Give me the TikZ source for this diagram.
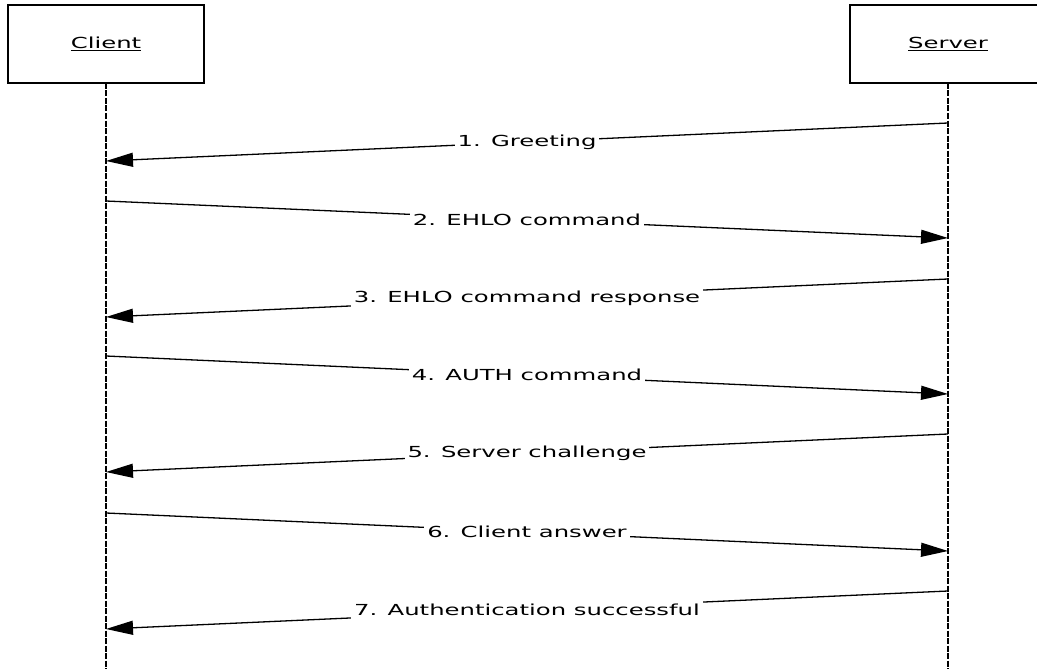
\documentclass[tikz,border=0pt]{standalone}
\usepackage{fontspec}
\setmainfont{DejaVu Sans}[FakeStretch=1.6]
\usetikzlibrary{arrows.meta}

\tikzset{
  actor/.style={draw, line width=1.5pt},
  lifeline/.style={line width=2.6pt, dash pattern=on 6pt off 1.5pt},
  msg/.style={line width=1.3pt, -{Triangle[length=27pt,width=14pt]}},
  msglabel/.style={fill=white, inner sep=3pt, midway, font=\fontsize{15.2}{18}\selectfont},
  actorlabel/.style={font=\fontsize{15.2}{18}\selectfont}
}

\begin{document}
\begin{tikzpicture}[x=1pt,y=-1pt]
\useasboundingbox (0,0) rectangle (1037,669);
%\draw[help lines, color=gray!30] (0,0) grid[step=50] (1037,669);

\draw [actor] (8,5) rectangle (204,83);
\node [actorlabel] (client) at (106,44) {\underline{Client}};
\draw [actor] (850,5) rectangle (1046,83);
\node [actorlabel] (server) at (948,44) {\underline{Server}};

\coordinate (c_top) at (106,83);
\coordinate (c_end) at (106,669);
\coordinate (s_top) at (948,83);
\coordinate (s_end) at (948,669);
\draw [lifeline] (c_top) -- (c_end);
\draw [lifeline] (s_top) -- (s_end);

\coordinate (s1) at (948,123);
\coordinate (c1) at (106,161);
\coordinate (c2) at (106,201);
\coordinate (s2) at (948,238);
\coordinate (s3) at (948,279);
\coordinate (c3) at (106,317);
\coordinate (c4) at (106,356);
\coordinate (s4) at (948,394);
\coordinate (s5) at (948,434);
\coordinate (c5) at (106,472);
\coordinate (c6) at (106,513);
\coordinate (s6) at (948,551);
\coordinate (s7) at (948,591);
\coordinate (c7) at (106,629);

\draw [msg] (s1) -- (c1) node [msglabel] (greeting) {1. Greeting};
\draw [msg] (c2) -- (s2) node [msglabel] (ehlo) {2. EHLO command};
\draw [msg] (s3) -- (c3) node [msglabel] (ehlo_resp) {3. EHLO command response};
\draw [msg] (c4) -- (s4) node [msglabel] (auth) {4. AUTH command};
\draw [msg] (s5) -- (c5) node [msglabel] (challenge) {5. Server challenge};
\draw [msg] (c6) -- (s6) node [msglabel] (answer) {6. Client answer};
\draw [msg] (s7) -- (c7) node [msglabel] (success) {7. Authentication successful};
\end{tikzpicture}
\end{document}
